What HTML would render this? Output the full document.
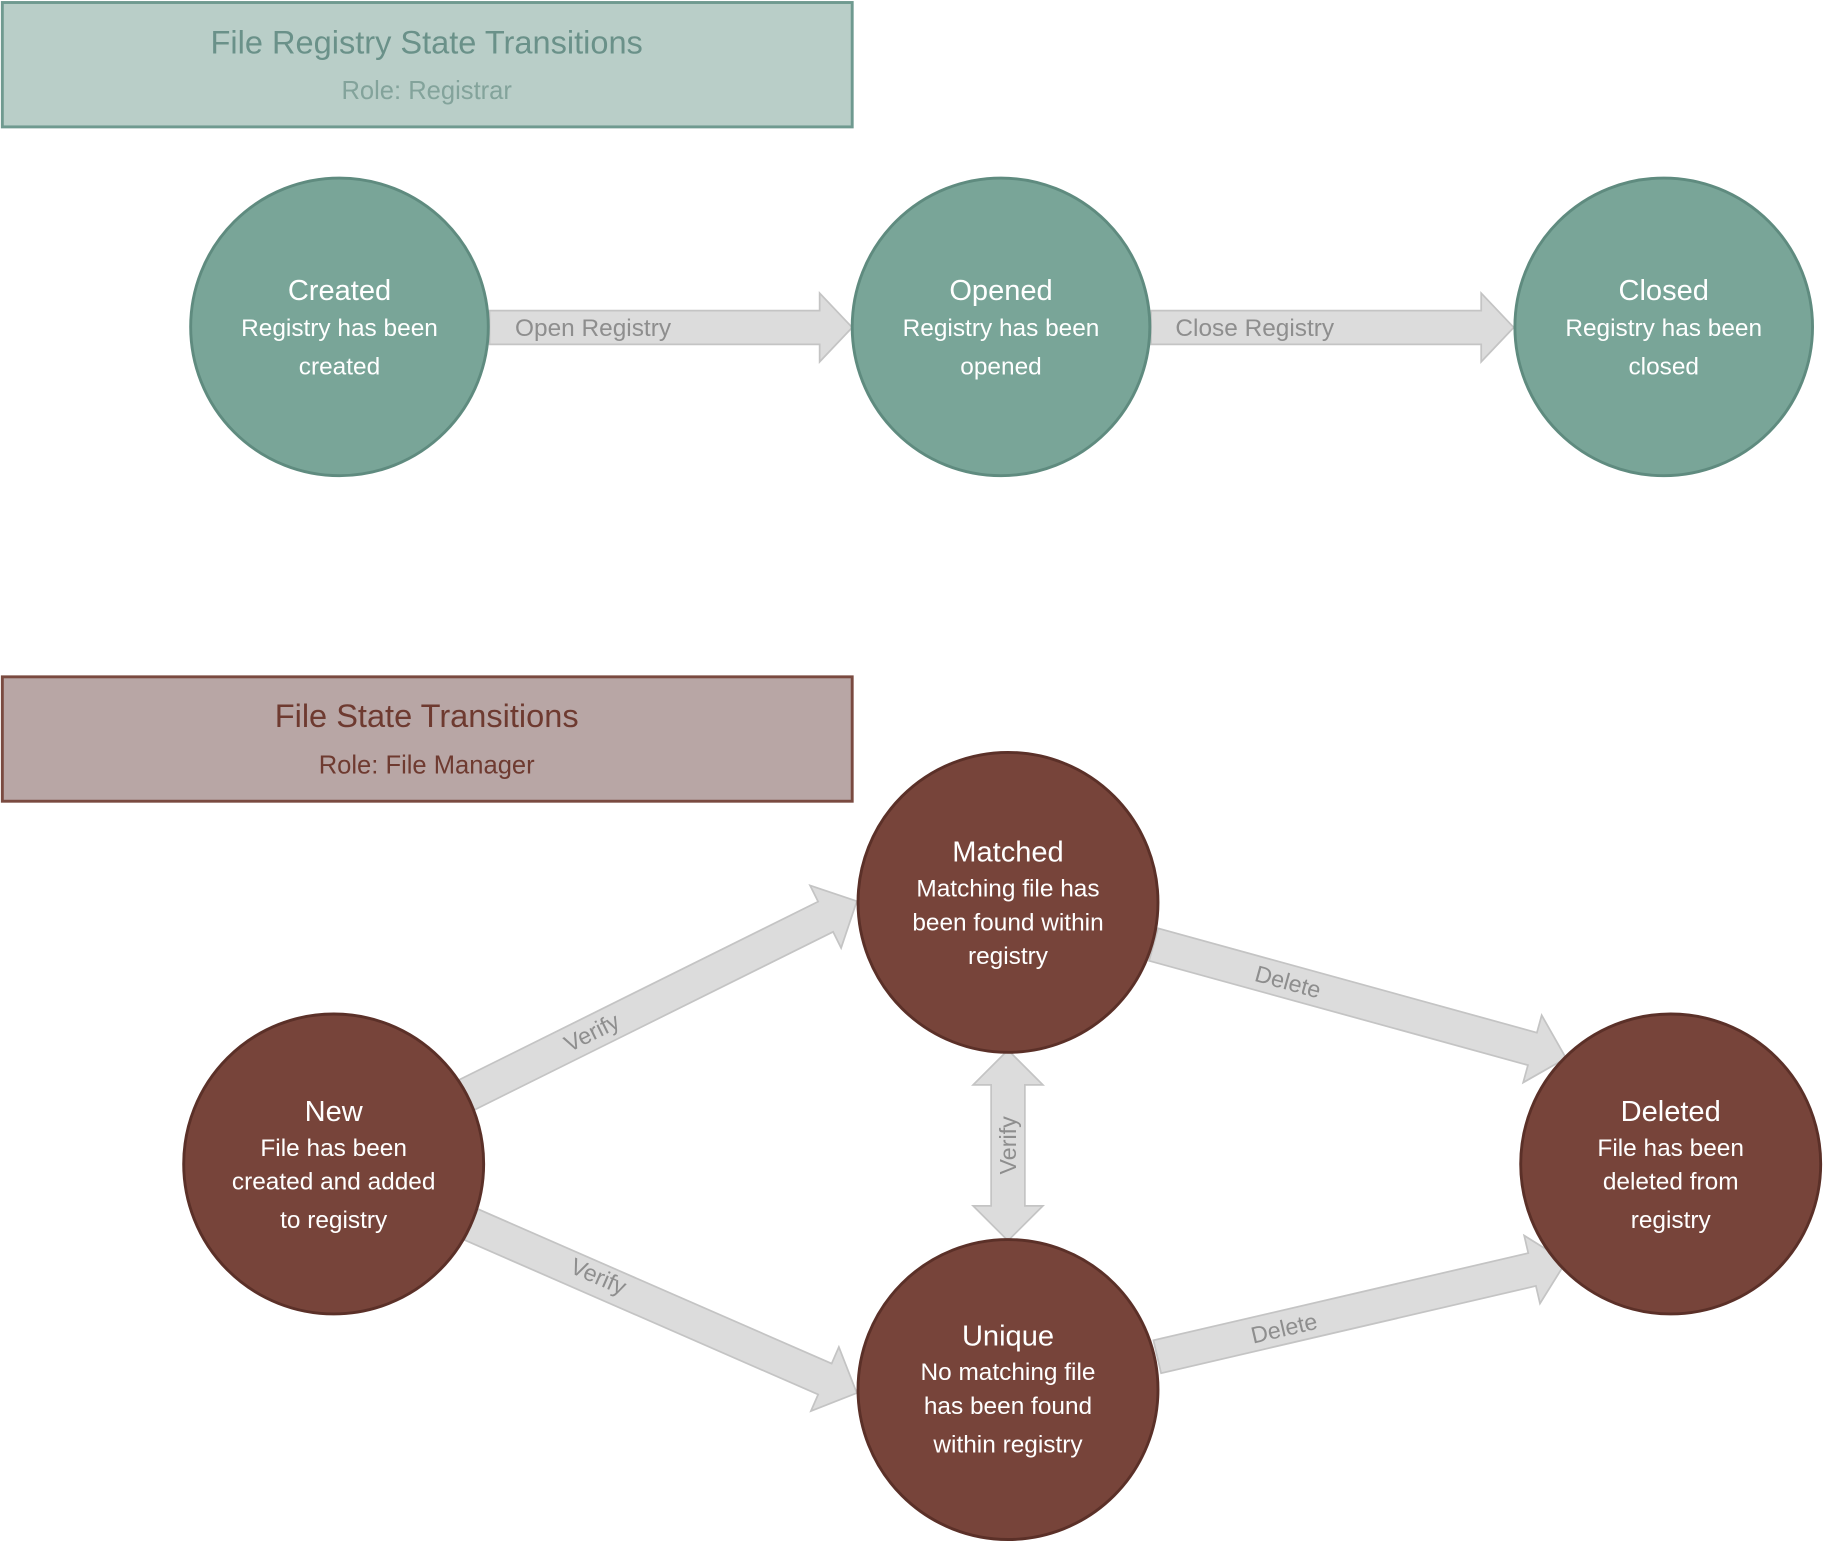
<!DOCTYPE html>
<html><head><meta charset="utf-8"><style>
html,body{margin:0;padding:0;background:#fff;}
svg{display:block;}
text{font-family:"Liberation Sans",sans-serif;}
</style></head><body>
<svg width="1823" height="1542" viewBox="0 0 1568 1326" xmlns="http://www.w3.org/2000/svg">
<defs>
<g id="arr"><polygon points="0,-14.5 -30,-14.5 -30,-30 0,0 -30,30 -30,14.5 0,14.5" /></g>
</defs>
<!-- top header -->
<rect x="2" y="2" width="731" height="107" fill="#b9cec8" stroke="#6f9a90" stroke-width="2.5"/>
<text x="367" y="46" text-anchor="middle" font-size="28" fill="#6a9189">File Registry State Transitions</text>
<text x="367" y="85" text-anchor="middle" font-size="22" fill="#83a39b">Role: Registrar</text>

<!-- top arrows -->
<g fill="#dcdcdc" stroke="#c4c4c4" stroke-width="1.5">
<polygon points="421,267 705,267 705,252 733,281.5 705,311 705,296 421,296"/>
<polygon points="990,267 1274,267 1274,252 1302,281.5 1274,311 1274,296 990,296"/>
</g>
<text x="443" y="289" font-size="21" fill="#8e8e8e">Open Registry</text>
<text x="1011" y="289" font-size="21" fill="#8e8e8e">Close Registry</text>

<!-- top circles -->
<g fill="#79a598" stroke="#5f8b7f" stroke-width="2.5">
<circle cx="292" cy="281" r="128"/>
<circle cx="861" cy="281" r="128"/>
<circle cx="1431" cy="281" r="128"/>
</g>
<g fill="#fff" text-anchor="middle">
<text x="292" y="258" font-size="25">Created</text>
<text x="292" y="289" font-size="21">Registry has been</text>
<text x="292" y="322" font-size="21">created</text>
<text x="861" y="258" font-size="25">Opened</text>
<text x="861" y="289" font-size="21">Registry has been</text>
<text x="861" y="322" font-size="21">opened</text>
<text x="1431" y="258" font-size="25">Closed</text>
<text x="1431" y="289" font-size="21">Registry has been</text>
<text x="1431" y="322" font-size="21">closed</text>
</g>

<!-- bottom header -->
<rect x="2" y="582" width="731" height="107" fill="#b8a6a5" stroke="#7a4a40" stroke-width="2.5"/>
<text x="367" y="625" text-anchor="middle" font-size="28" fill="#6e3a30">File State Transitions</text>
<text x="367" y="665" text-anchor="middle" font-size="22" fill="#6e3a30">Role: File Manager</text>

<!-- bottom arrows -->
<g fill="#dcdcdc" stroke="#c4c4c4" stroke-width="1.5">
<g transform="translate(737,775) rotate(-26.4)"><polygon points="0,0 -30,-30 -30,-14.5 -378,-14.5 -378,14.5 -30,14.5 -30,30"/></g>
<g transform="translate(1347,910) rotate(15.4)"><polygon points="0,0 -30,-30 -30,-14.5 -368,-14.5 -368,14.5 -30,14.5 -30,30"/></g>
<g transform="translate(737,1198) rotate(23.6)"><polygon points="0,0 -30,-30 -30,-14.5 -362,-14.5 -362,14.5 -30,14.5 -30,30"/></g>
<g transform="translate(1347,1085) rotate(-13.1)"><polygon points="0,0 -30,-30 -30,-14.5 -361,-14.5 -361,14.5 -30,14.5 -30,30"/></g>
<polygon points="867,903 897,933 881.5,933 881.5,1037 897,1037 867,1067 837,1037 852.5,1037 852.5,933 837,933"/>
</g>
<g fill="#8e8e8e" font-size="20" text-anchor="middle">
<text transform="translate(512,894) rotate(-26.4)">Verify</text>
<text transform="translate(1106,851) rotate(15.4)">Delete</text>
<text transform="translate(512,1104) rotate(23.6)">Verify</text>
<text transform="translate(1106,1149) rotate(-13.1)">Delete</text>
<text transform="translate(874,985) rotate(-90)">Verify</text>
</g>

<!-- bottom circles -->
<g fill="#77443a" stroke="#5b3028" stroke-width="2.5">
<circle cx="867" cy="776" r="129"/>
<circle cx="287" cy="1001" r="129"/>
<circle cx="867" cy="1195" r="129"/>
<circle cx="1437" cy="1001" r="129"/>
</g>
<g fill="#fff" text-anchor="middle">
<text x="867" y="741" font-size="25">Matched</text>
<text x="867" y="771" font-size="21">Matching file has</text>
<text x="867" y="800" font-size="21">been found within</text>
<text x="867" y="829" font-size="21">registry</text>
<text x="287" y="964" font-size="25">New</text>
<text x="287" y="994" font-size="21">File has been</text>
<text x="287" y="1023" font-size="21">created and added</text>
<text x="287" y="1056" font-size="21">to registry</text>
<text x="867" y="1157" font-size="25">Unique</text>
<text x="867" y="1187" font-size="21">No matching file</text>
<text x="867" y="1216" font-size="21">has been found</text>
<text x="867" y="1249" font-size="21">within registry</text>
<text x="1437" y="964" font-size="25">Deleted</text>
<text x="1437" y="994" font-size="21">File has been</text>
<text x="1437" y="1023" font-size="21">deleted from</text>
<text x="1437" y="1056" font-size="21">registry</text>
</g>
</svg>
</body></html>
